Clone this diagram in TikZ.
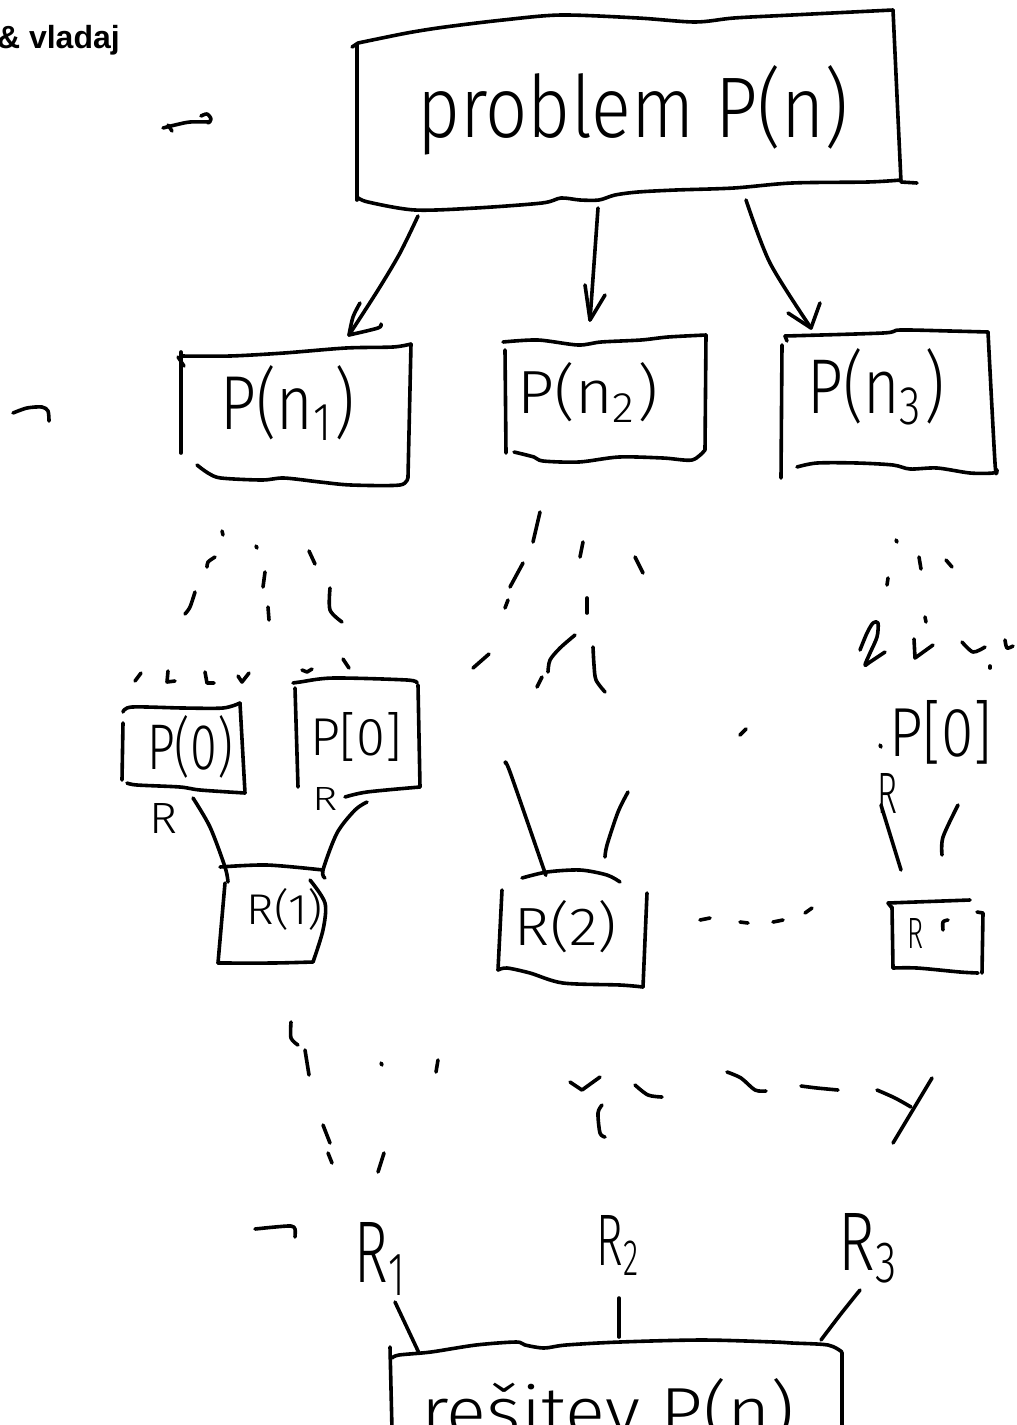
\documentclass[tikz,border=0pt]{standalone}
\usepackage{fontspec}
\setmainfont{Liberation Sans}
\newfontfamily\handfont{Fira Sans Light}
\usetikzlibrary{calc}
\tikzset{
  ink/.style={line width=3.6pt, line cap=round, line join=round},
  lbl/.style={inner sep=0pt, outer sep=0pt, anchor=base, font=\handfont},
  headtxt/.style={inner sep=0pt, anchor=base east, font=\bfseries\fontsize{32}{32}\selectfont},
}
% set a label to a given width and height (in pt)
\newcommand\hw[3]{\resizebox{#1pt}{#2pt}{#3}}

\begin{document}
\begin{tikzpicture}[x=1pt,y=-1pt]
\useasboundingbox (0,0) rectangle (1017,1425);
\clip (0,0) rectangle (1017,1425);

% ---------- heading ----------
\node[headtxt] (head) at (120,48) {\& vladaj};

% ---------- labels ----------
\node[lbl] (prob) at (633,137)  {\hw{432}{72}{problem P(n)}};
\node[lbl] (pn1)  at (288,429)  {\hw{134}{64}{P(n\textsubscript{1})}};
\node[lbl] (pn2)  at (588,413)  {\hw{141}{51}{P(n\textsubscript{2})}};
\node[lbl] (pn3)  at (876,413)  {\hw{137}{65}{P(n\textsubscript{3})}};
\node[lbl] (p0a)  at (190,769)  {\hw{86}{54}{P(0)}};
\node[lbl] (p0b)  at (356,755)  {\hw{92}{43}{P[0]}};
\node[lbl] (p0c)  at (941,756)  {\hw{103}{56}{P[0]}};
\node[lbl] (ra)   at (164,833)  {\hw{28}{30}{R}};
\node[lbl] (rb)   at (325,810)  {\hw{25}{23}{R}};
\node[lbl] (rc)   at (887,813)  {\hw{20}{40}{R}};
\node[lbl] (r1)   at (285,924)  {\hw{76}{36}{R(1)}};
\node[lbl] (r2)   at (566,945)  {\hw{102}{45}{R(2)}};
\node[lbl] (r3)   at (915,948)  {\hw{16}{30}{R}};
\node[lbl] (s1)   at (381,1282) {\hw{53}{60}{R\textsubscript{1}}};
\node[lbl] (s2)   at (619,1265) {\hw{44}{50}{R\textsubscript{2}}};
\node[lbl] (s3)   at (869,1270) {\hw{61}{57}{R\textsubscript{3}}};
\node[lbl] (sol)  at (608,1435) {\hw{373}{57}{rešitev P(n)}};

% ---------- top box ----------
\draw[ink] (352,47) -- (358,43);
\draw[ink] (357,45) -- (357,200);
\draw[ink] plot[smooth] coordinates {(358,43) (407,33) (445,27) (503,20) (561,15) (638,18) (695,22) (734,18) (792,15) (893,10)};
\draw[ink] (893,10) -- (901,182) -- (917,183);
\draw[ink] plot[smooth] coordinates {(901,180) (868,182) (792,183) (734,188) (676,190) (638,192) (615,195) (599,200) (580,200) (561,198) (542,203) (476,208) (415,210) (368,202) (357,197)};

% ---------- arrows to the three sub-problems ----------
\coordinate (a1s) at (418,216); \coordinate (a1e) at (349,335);
\coordinate (a2s) at (598,208); \coordinate (a2e) at (590,320);
\coordinate (a3s) at (746,200); \coordinate (a3e) at (811,328);
\draw[ink] plot[smooth] coordinates {(a1s) (400,253) (378,290) (a1e)};
\draw[ink] plot[smooth] coordinates {(360,303) (353,317) (a1e)};
\draw[ink] plot[smooth] coordinates {(a1e) (378,328) (381,324)};
\draw[ink] (a2s) -- (a2e);
\draw[ink] (585,285) -- (a2e) -- (605,295);
\draw[ink] plot[smooth] coordinates {(a3s) (770,263) (a3e)};
\draw[ink] (788,313) -- (a3e) -- (820,303);

% ---------- sub-problem boxes ----------
\draw[ink] (178,357) -- (184,366);
\draw[ink] (181,352) -- (181,453);
\draw[ink] plot[smooth] coordinates {(181,356) (230,356) (284,353) (346,348) (393,347) (411,344)};
\draw[ink] (411,344) -- (408,477);
\draw[ink] plot[smooth] coordinates {(197,465) (208,473) (221,478) (262,480) (284,478) (320,482) (351,485) (400,485) (408,477)};

\draw[ink] plot[smooth] coordinates {(503,342) (538,340) (578,345) (601,342) (641,340) (668,337) (706,335)};
\draw[ink] (505,350) -- (506,453);
\draw[ink] (706,335) -- (705,450);
\draw[ink] plot[smooth] coordinates {(514,452) (534,457) (543,461) (579,462) (619,457) (663,458) (692,460) (705,450)};

\draw[ink] (787,341) -- (785,336);
\draw[ink] plot[smooth] coordinates {(785,336) (883,333) (900,330) (950,331) (988,332)};
\draw[ink] (782,345) -- (781,478);
\draw[ink] plot[smooth] coordinates {(988,332) (995,463) (997,470)};
\draw[ink] plot[smooth] coordinates {(797,467) (817,463) (857,463) (893,465) (910,469) (937,468) (970,473) (993,473) (997,470)};

% ---------- broken recursion strokes ----------
% left subtree
\draw[ink] (222,531) -- (223,535);
\draw[ink] (256,546) -- (257,548);
\draw[ink] plot[smooth] coordinates {(207,567) (208,562) (215,557)};
\draw[ink] (309,551) -- (315,564);
\draw[ink] (265,572) -- (263,587);
\draw[ink] plot[smooth] coordinates {(185,614) (190,607) (195,592)};
\draw[ink] (268,607) -- (269,620);
\draw[ink] plot[smooth] coordinates {(330,588) (330,610) (342,622)};
\draw[ink] (135,681) -- (141,673);
\draw[ink] (168,671) -- (167,682) -- (175,681);
\draw[ink] (205,672) -- (207,683) -- (214,683);
\draw[ink] (238,676) -- (242,682) -- (249,673);
\draw[ink] (302,670) -- (307,672) -- (312,669);
\draw[ink] (343,659) -- (349,668);
% middle subtree
\draw[ink] (533,542) -- (540,512);
\draw[ink] (580,557) -- (583,542);
\draw[ink] (635,557) -- (643,573);
\draw[ink] (510,587) -- (523,563);
\draw[ink] (505,608) -- (508,600);
\draw[ink] (587,598) -- (587,613);
\draw[ink] (473,668) -- (489,654);
\draw[ink] plot[smooth] coordinates {(575,635) (560,648) (550,660) (548,672)};
\draw[ink] (537,687) -- (542,677);
\draw[ink] plot[smooth] coordinates {(593,647) (594,665) (596,680) (605,692)};
\draw[ink] (740,735) -- (746,729);
% right subtree
\draw[ink] (896,540) -- (897,542);
\draw[ink] (919,557) -- (921,569);
\draw[ink] (946,560) -- (952,567);
\draw[ink] (887,585) -- (888,578);
\draw[ink] plot[smooth] coordinates {(860,650) (867,633) (873,623) (878,623) (877,637) (870,653) (865,665) (870,662) (885,652)};
\draw[ink] (925,617) -- (926,622);
\draw[ink] (914,639) -- (915,658) -- (933,645);
\draw[ink] plot[smooth] coordinates {(962,642) (973,652) (985,647)};
\draw[ink] plot[smooth] coordinates {(1005,640) (1007,648) (1013,646)};
\draw[ink] (990,666) -- (990,668);
\draw[ink] (880,745) -- (881,747);

% ---------- base cases ----------
\draw[ink] plot[smooth] coordinates {(123,712) (132,707) (183,708) (223,708) (240,703)};
\draw[ink] (123,723) -- (122,780);
\draw[ink] (240,703) -- (245,793);
\draw[ink] plot[smooth] coordinates {(245,793) (200,790) (180,787) (137,785) (127,783)};

\draw[ink] plot[smooth] coordinates {(293,683) (300,682) (333,678) (407,680) (417,683)};
\draw[ink] (295,688) -- (298,787);
\draw[ink] (418,685) -- (420,787);
\draw[ink] plot[smooth] coordinates {(420,787) (367,792) (345,797)};

% ---------- partial results ----------
\coordinate (b1s) at (193,798); \coordinate (b1e) at (228,882);
\coordinate (b2s) at (367,802); \coordinate (b2e) at (325,878);
\draw[ink] plot[smooth] coordinates {(b1s) (210,827) (225,867) (b1e)};
\draw[ink] plot[smooth] coordinates {(b2s) (355,810) (337,833) (323,870) (b2e)};
\draw[ink] plot[smooth] coordinates {(220,867) (267,865) (323,870)};
\draw[ink] (225,883) -- (218,963);
\draw[ink] plot[smooth] coordinates {(218,963) (273,963) (313,962)};
\draw[ink] plot[smooth] coordinates {(310,880) (325,903) (323,930) (313,962)};

\coordinate (c1s) at (505,763); \coordinate (c1e) at (545,873);
\coordinate (c2s) at (628,792); \coordinate (c2e) at (605,857);
\draw[ink] plot[smooth] coordinates {(c1s) (510,772) (543,867) (c1e)};
\draw[ink] plot[smooth] coordinates {(c2s) (618,812) (607,845) (c2e)};
\draw[ink] plot[smooth] coordinates {(522,878) (547,872) (580,870) (607,875) (620,882)};
\draw[ink] (502,890) -- (498,970);
\draw[ink] plot[smooth] coordinates {(498,970) (507,968) (530,973) (563,983) (620,985) (643,987)};
\draw[ink] (647,893) -- (643,987);

\draw[ink] (700,920) -- (710,918);
\draw[ink] (740,922) -- (748,923);
\draw[ink] (773,922) -- (783,920);
\draw[ink] (805,913) -- (812,908);

\coordinate (d1s) at (881,805); \coordinate (d1e) at (901,870);
\draw[ink] (d1s) -- (d1e);
\draw[ink] plot[smooth] coordinates {(958,805) (943,837) (942,855)};
\draw[ink] (888,903) -- (970,900);
\draw[ink] (888,903) -- (892,908);
\draw[ink] (892,907) -- (893,968);
\draw[ink] plot[smooth] coordinates {(893,968) (917,968) (960,972) (978,973)};
\draw[ink] (977,912) -- (983,913) -- (982,973);
\draw[ink] plot[smooth] coordinates {(943,930) (943,922) (948,920)};

% ---------- merging strokes ----------
\draw[ink] plot[smooth] coordinates {(291,1022) (291,1038) (298,1045)};
\draw[ink] (305,1050) -- (309,1075);
\draw[ink] (381,1063) -- (382,1065);
\draw[ink] (438,1060) -- (436,1072);
\draw[ink] (323,1125) -- (330,1143);
\draw[ink] (328,1153) -- (332,1163);
\draw[ink] (384,1153) -- (378,1172);
\draw[ink] (570,1082) -- (582,1090) -- (600,1077);
\draw[ink] plot[smooth] coordinates {(602,1105) (598,1113) (600,1133) (605,1137)};
\draw[ink] plot[smooth] coordinates {(635,1085) (648,1095) (662,1097)};
\draw[ink] plot[smooth] coordinates {(727,1072) (741,1078) (755,1090) (766,1091)};
\draw[ink] plot[smooth] coordinates {(801,1086) (817,1088) (838,1090)};
\draw[ink] plot[smooth] coordinates {(877,1090) (895,1098) (911,1107)};
\draw[ink] (932,1078) -- (893,1143);

% ---------- margin arrows ----------
\draw[ink] plot[smooth] coordinates {(163,128) (175,125) (190,122) (210,122)};
\draw[ink] plot[smooth] coordinates {(201,116) (207,114) (211,119) (208,123)};
\draw[ink] (168,125) -- (172,131);
\draw[ink] plot[smooth] coordinates {(13,413) (27,408) (42,407) (48,411) (49,421)};
\draw[ink] plot[smooth] coordinates {(255,1229) (275,1227) (291,1226) (295,1229) (295,1237)};

% ---------- final solution ----------
\coordinate (e1s) at (395,1302); \coordinate (e1e) at (419,1353);
\coordinate (e2s) at (619,1298); \coordinate (e2e) at (619,1337);
\coordinate (e3s) at (860,1290); \coordinate (e3e) at (821,1340);
\draw[ink] (e1s) -- (e1e);
\draw[ink] (e2s) -- (e2e);
\draw[ink] plot[smooth] coordinates {(e3s) (840,1315) (e3e)};
\draw[ink] plot[smooth] coordinates {(392,1358) (399,1355) (431,1352) (476,1345) (516,1342) (525,1345) (544,1348) (566,1345) (620,1342) (702,1340) (774,1342) (792,1343) (828,1345) (842,1352)};
\draw[ink] (390,1347) -- (392,1430);
\draw[ink] (842,1353) -- (842,1430);
\end{tikzpicture}
\end{document}
